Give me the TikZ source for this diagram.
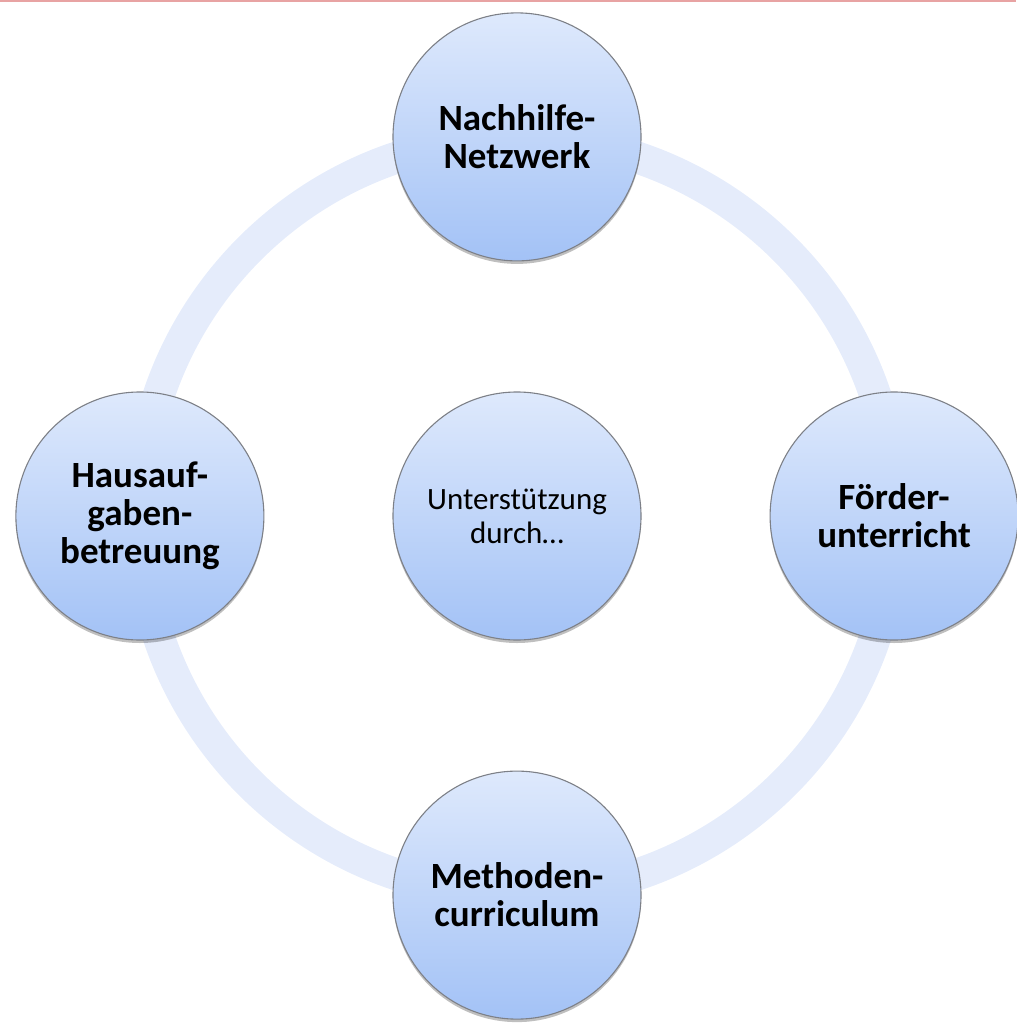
\documentclass[tikz,border=0pt]{standalone}
\usepackage{fontspec}
\setmainfont{Carlito}
\usepackage{tikz}
\usetikzlibrary{positioning, shadows, backgrounds}

\definecolor{ringblue}{RGB}{229,236,251}
\definecolor{discTop}{RGB}{222,233,252}
\definecolor{discBottom}{RGB}{163,194,246}
\definecolor{discLine}{RGB}{125,128,135}
\definecolor{topRule}{RGB}{232,163,163}

\begin{document}
\begin{tikzpicture}[
	  x=1pt, y=-1pt,
	  node distance=130pt and 128pt,
	  disc/.style={
	    circle,
	    draw=discLine,
	    line width=1.1pt,
	    minimum size=248pt,
	    inner sep=0pt,
	    align=center,
	    top color=discTop,
	    bottom color=discBottom,
	    drop shadow={shadow xshift=0pt, shadow yshift=-3pt, opacity=0.25, fill=black}
	  },
	  spokedisc/.style={disc, font=\fontsize{37}{38}\selectfont\bfseries},
	  hubdisc/.style={disc, font=\fontsize{31}{34}\selectfont},
	  ring/.style={draw=ringblue, line width=32pt}
	]

	\useasboundingbox (0,0) rectangle (1016,1032);
	\draw[topRule, line width=2.5pt] (0,1) -- (1016,1);

	% --- Ring ---
	\coordinate (mid) at (517,516);
	\draw[ring] (mid) circle[radius=378pt];

	% --- Hub ---
	\node[hubdisc] (hub) at (mid) {Unterst\"utzung\\durch\ldots};

	% --- Spokes ---
	\node[spokedisc, above=of hub] (tutoring) {Nachhilfe-\\Netzwerk};
	\node[spokedisc, right=of hub] (support) {F\"order-\\unterricht};
	\node[spokedisc, below=of hub] (methods) {Methoden-\\curriculum};
	\node[spokedisc, left=of hub] (homework) {Hausauf-\\gaben-\\betreuung};

\end{tikzpicture}
\end{document}
